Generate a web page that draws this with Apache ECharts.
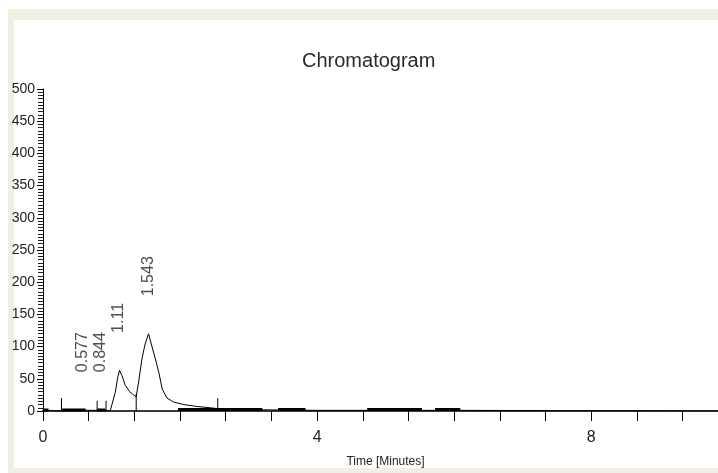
<!DOCTYPE html>
<html>
<head>
<meta charset="utf-8">
<script src="https://cdn.jsdelivr.net/npm/echarts@6/dist/echarts.min.js"></script>
<style>
html,body{margin:0;padding:0;background:#ffffff;}
#chart{width:718px;height:473px;}
</style>
</head>
<body>
<div id="chart"></div>
<script>
// Chromatogram trace (time in minutes, detector response)
var traceTimes  = [0, 0.1, 0.2, 0.27, 0.35, 0.45, 0.577, 0.65, 0.79, 0.844, 0.92, 0.98, 1.006, 1.055, 1.09, 1.117, 1.152, 1.2, 1.264, 1.32, 1.36, 1.395, 1.444, 1.49, 1.54, 1.58, 1.64, 1.69, 1.74, 1.81, 1.905, 2.05, 2.25, 2.44, 2.6, 3.0, 4.0, 6.0, 9.85];
var traceValues = [1, 1, 0, 1, 1, 1, 2, 1, 1, 2, 1, 0, 0, 29, 52, 63, 55, 40, 30, 25, 22, 45, 81, 104, 120, 104, 81, 60, 34, 20, 14, 10, 7, 5, 3, 2, 1, 1, 0];

// Noisy baseline stretches drawn thick just above the axis (start, end in minutes)
var noiseStart = [0.0, 0.28, 0.79, 1.97, 3.43, 4.73, 5.72];
var noiseEnd   = [0.08, 0.62, 0.91, 3.2, 3.83, 5.53, 6.09];
var noiseLevel = [1.5, 1.5, 1.5, 2.5, 2.5, 2.5, 2.5];

// Vertical peak-boundary markers
var markerTimes   = [0.27, 0.79, 0.92, 1.36, 2.55];
var markerHeights = [20, 16, 16, 27, 20];

// Retention-time labels
var peakTimes   = [0.577, 0.844, 1.11, 1.543];
var peakHeights = [2, 2, 63, 120];
var peakLabels  = ['0.577', '0.844', '1.11', '1.543'];

// Axis settings (the right side of the plot is cut off at about 9.85 min)
var xMin = 0, xMax = 9.85, xTickStep = 2 / 3, xLabelStep = 4;
var yMin = 0, yMax = 500, yTickStep = 50;

var traceData = traceTimes.map(function (t, i) { return [t, traceValues[i]]; });
var noiseData = [];
noiseStart.forEach(function (s, i) {
  noiseData.push([s, noiseLevel[i]], [noiseEnd[i], noiseLevel[i]], [null, null]);
});
var markerData = [];
markerTimes.forEach(function (t, i) {
  markerData.push([t, 0], [t, markerHeights[i]], [null, null]);
});
var peakData = peakTimes.map(function (t, i) { return { value: [t, peakHeights[i]], name: peakLabels[i] }; });

var FONT = '"Liberation Sans", Arial, sans-serif';
var chart = echarts.init(document.getElementById('chart'), null, { renderer: 'canvas' });
chart.setOption({
  backgroundColor: '#ffffff',
  animation: false,
  graphic: [
    { type: 'rect', silent: true, z: -10, shape: { x: 8, y: 9, width: 720, height: 464 }, style: { fill: '#f1eee2' } },
    { type: 'rect', silent: true, z: -9, shape: { x: 14, y: 20, width: 720, height: 448 }, style: { fill: '#ffffff' } }
  ],
  title: {
    text: 'Chromatogram',
    left: 297,
    top: 46,
    textStyle: { fontFamily: FONT, fontSize: 20, fontWeight: 'normal', color: '#2a2a2a' }
  },
  grid: { left: 43, right: 0, top: 89, bottom: 61, containLabel: false },
  xAxis: [{
    type: 'value',
    min: xMin, max: xMax, interval: xTickStep,
    name: 'Time [Minutes]',
    nameLocation: 'middle',
    nameGap: 45,
    nameTextStyle: { fontFamily: FONT, fontSize: 12, color: '#222', padding: [0, 0, 0, 10] },
    axisLine: { show: true, onZero: false, lineStyle: { color: '#000', width: 2 } },
    axisTick: { show: true, length: 10, lineStyle: { color: '#000', width: 1 } },
    axisLabel: {
      show: true, margin: 19,
      fontFamily: FONT, fontSize: 16, color: '#222',
      showMaxLabel: false,
      formatter: function (v) {
        var r = v / xLabelStep;
        return Math.abs(r - Math.round(r)) < 1e-6 ? String(Math.round(v)) : '';
      }
    },
    splitLine: { show: false }
  }, {
    type: 'value', position: 'top',
    min: xMin, max: xMax,
    axisLine: { show: true, lineStyle: { color: '#3a3a3a', width: 2 } },
    axisTick: { show: false }, axisLabel: { show: false }, splitLine: { show: false }
  }],
  yAxis: {
    type: 'value',
    min: yMin, max: yMax, interval: yTickStep,
    axisLine: { show: true, lineStyle: { color: '#000', width: 1 } },
    axisTick: { show: true, length: 6, lineStyle: { color: '#000', width: 1 } },
    minorTick: { show: true, splitNumber: 10, length: 5, lineStyle: { color: '#222', width: 1 } },
    axisLabel: { margin: 8, fontFamily: FONT, fontSize: 14, color: '#222' },
    splitLine: { show: false }
  },
  series: [
    {
      type: 'line', name: 'noise', data: noiseData, xAxisIndex: 0,
      showSymbol: false, connectNulls: false, silent: true,
      lineStyle: { color: '#000', width: 3 }, z: 3
    },
    {
      type: 'line', name: 'markers', data: markerData, xAxisIndex: 0,
      showSymbol: false, connectNulls: false, silent: true,
      lineStyle: { color: '#000', width: 1 }, z: 3
    },
    {
      type: 'line', name: 'trace', data: traceData, xAxisIndex: 0,
      showSymbol: false, silent: true,
      lineStyle: { color: '#000', width: 1 }, z: 4
    },
    {
      type: 'scatter', name: 'peaks', data: peakData, xAxisIndex: 0,
      symbolSize: 1, itemStyle: { color: 'transparent' }, silent: true,
      label: {
        show: true, formatter: '{b}',
        position: 'top', distance: 37,
        rotate: 90, align: 'left', verticalAlign: 'middle',
        fontFamily: FONT, fontSize: 16, color: '#222'
      }, z: 5
    }
  ]
});
</script>
</body>
</html>
